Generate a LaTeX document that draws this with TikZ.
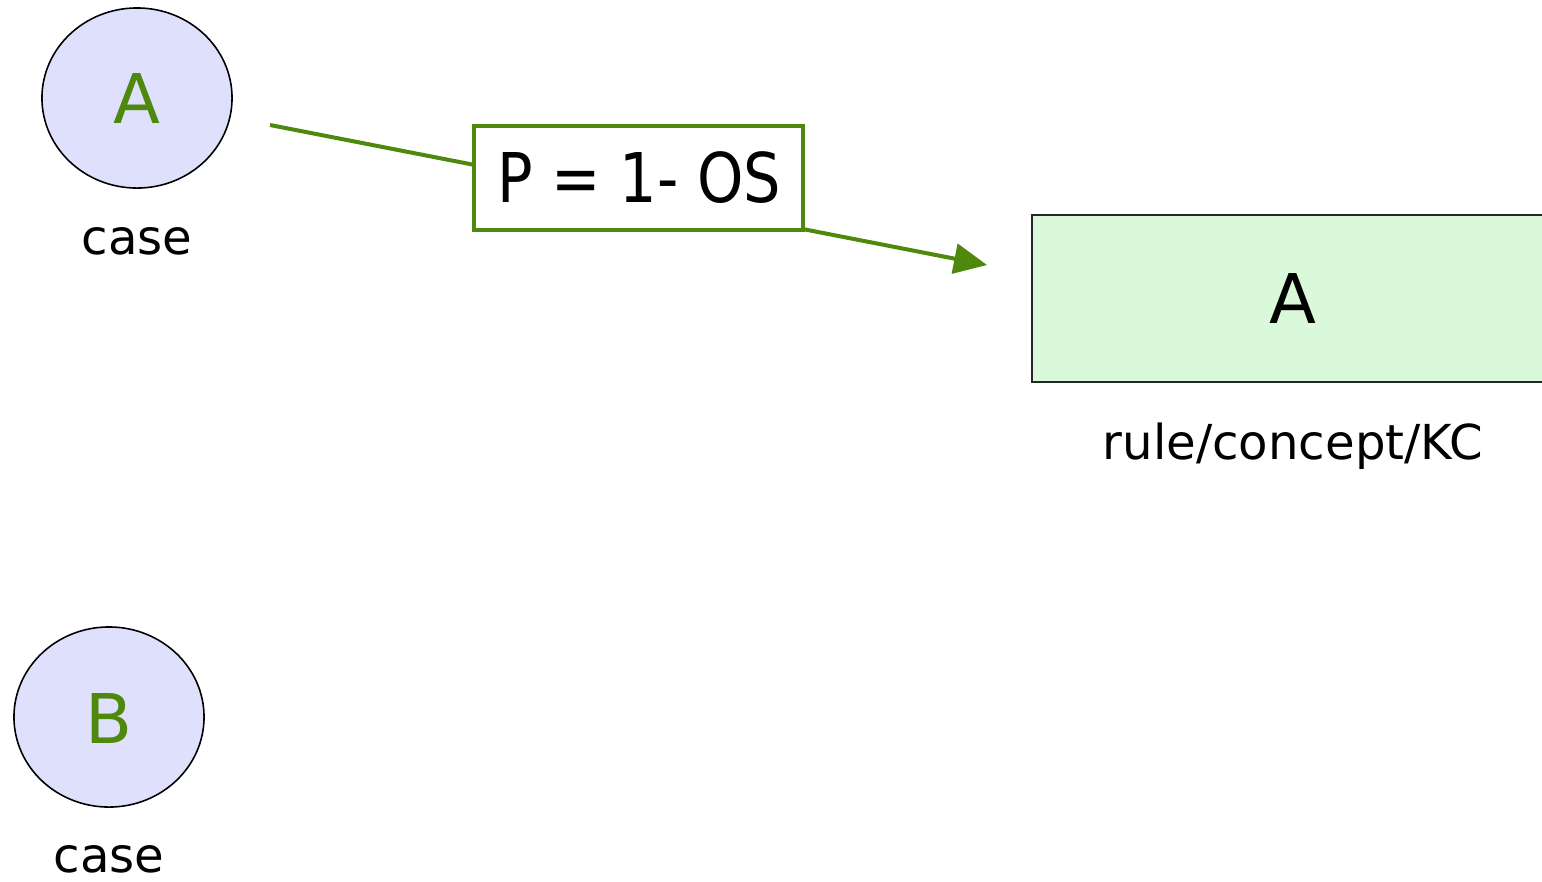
\documentclass[tikz,border=0pt]{standalone}
\usepackage{fontspec}
\usepackage{graphicx}
\setmainfont{DejaVu Sans}
\usetikzlibrary{arrows.meta,shapes.geometric}
\definecolor{kgreen}{RGB}{78,137,14}
\definecolor{casefill}{RGB}{222,224,252}
\definecolor{rulefill}{RGB}{218,249,218}
\tikzset{
  casenode/.style={ellipse, draw=black, line width=0.45pt, fill=casefill, minimum width=1.9cm, minimum height=1.8cm, inner sep=0pt},
  bigletter/.style={font=\fontsize{19.5}{22}\selectfont, anchor=base},
  smalllabel/.style={font=\fontsize{13.7}{16}\selectfont, anchor=base},
  rulenode/.style={draw=black!85, line width=0.6pt, fill=rulefill, minimum width=5.22cm, minimum height=1.67cm, inner sep=0pt},
  probbox/.style={draw=kgreen, line width=1.14pt, fill=white, minimum width=3.29cm, minimum height=1.04cm, inner sep=0pt},
  probtext/.style={font=\fontsize{19.5}{22}\selectfont, anchor=base},
  conn/.style={draw=kgreen, line width=1.14pt, -{Triangle[length=0.33cm, width=0.30cm]}}
}
\begin{document}
\begin{tikzpicture}[x=0.01cm, y=-0.01cm]
\useasboundingbox (0,0) rectangle (1542,881);
\clip (0,0) rectangle (1542,881);
% cases
\node[casenode] (caseA) at (137,98) {};
\node[bigletter, text=kgreen] (caseAletter) at (137,123) {A};
\node[smalllabel] (caseAlabel) at (137,254) {case};
\node[casenode] (caseB) at (109,717) {};
\node[bigletter, text=kgreen] (caseBletter) at (109,743) {B};
\node[smalllabel] (caseBlabel) at (109,872) {case};
% rule
\node[rulenode] (rule) at (1293,298.5) {};
\node[bigletter] (ruleletter) at (1293,323) {A};
\node[smalllabel] (rulelabel) at (1293,459) {rule/concept/KC};
% connector
\coordinate (s) at (270,125);
\coordinate (t) at (987,265);
\draw[conn] (s) -- (t);
\node[probbox] (prob) at (638.5,178) {};
\node[probtext] (probtxt) at (639,202) {\scalebox{0.86}[1]{P = 1- OS}};
\end{tikzpicture}
\end{document}
